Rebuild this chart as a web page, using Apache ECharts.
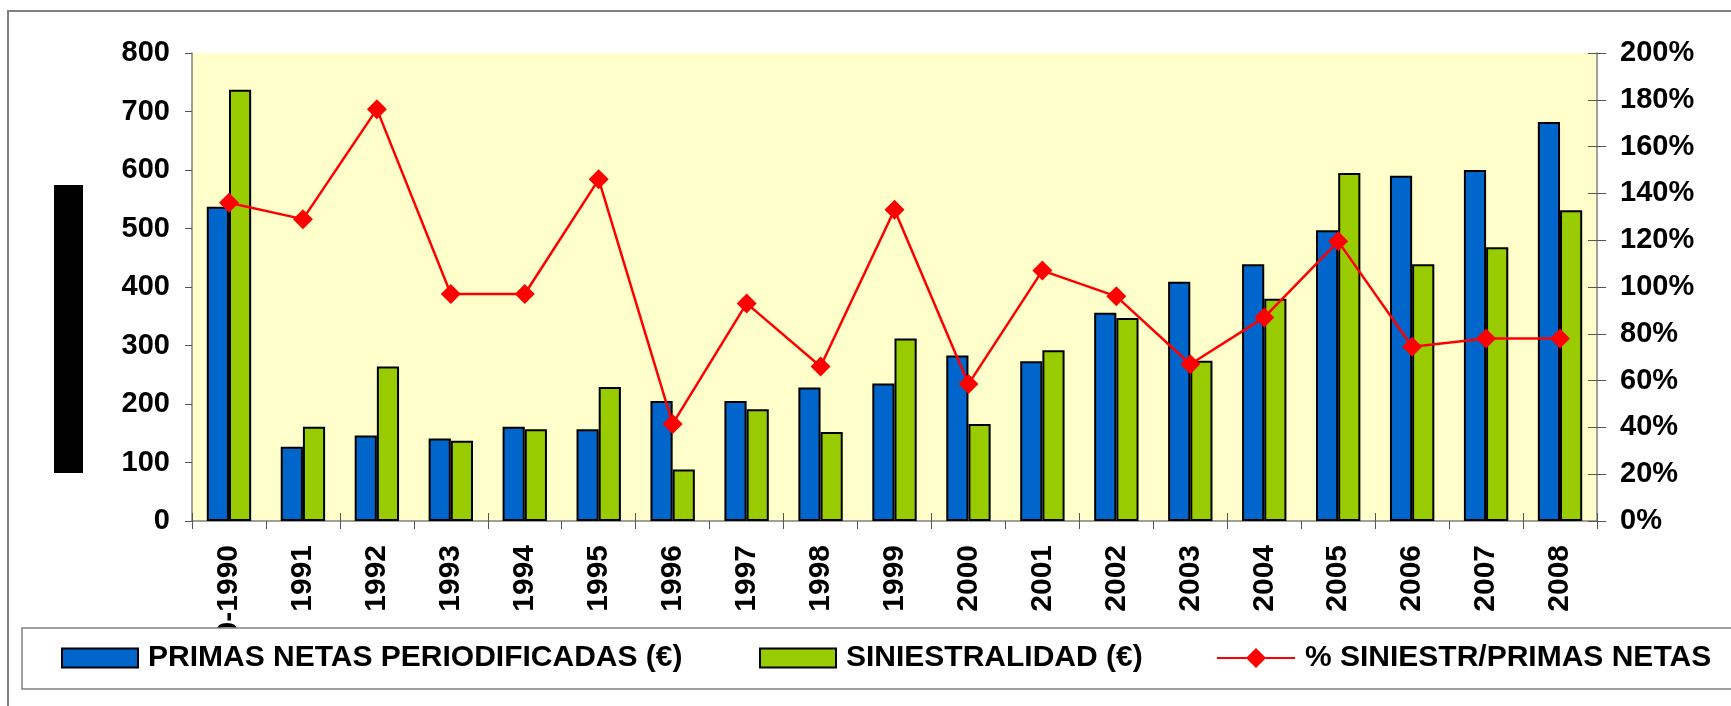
<!DOCTYPE html>
<html>
<head>
<meta charset="utf-8">
<script src="https://cdn.jsdelivr.net/npm/echarts@6/dist/echarts.min.js"></script>
<style>
html,body{margin:0;padding:0;background:#fff;}
#chart{width:1731px;height:706px;}
</style>
</head>
<body>
<div id="chart"></div>
<script>
const categories = ['1980-1990','1991','1992','1993','1994','1995','1996','1997','1998','1999','2000','2001','2002','2003','2004','2005','2006','2007','2008'];
const primas = [537,127,146,141,161,157,205,205,228,235,283,273,356,409,439,497,590,600,682];
const siniestralidad = [737,161,264,137,157,229,88,191,152,312,166,292,347,274,380,595,439,468,531];
const pctSiniestr = [136,129,176,97,97,146,41.5,93,66,133,58.5,107,96,67,87,119.5,74.5,78,78];
const leftTicks = [0,100,200,300,400,500,600,700,800];
const rightTicks = [0,20,40,60,80,100,120,140,160,180,200];

const FONT = "'Liberation Sans', Arial, sans-serif";
const labelStyle = {color:'#000', fontWeight:'bold', fontSize:30, fontFamily:FONT};
const yLabelStyle = {color:'#000', fontWeight:'bold', fontSize:29, fontFamily:FONT};
const axisGray = '#808080';

const chart = echarts.init(document.getElementById('chart'));
const names = ['PRIMAS NETAS PERIODIFICADAS (€)','SINIESTRALIDAD (€)','% SINIESTR/PRIMAS NETAS'];
const legendText = {color:'#000', fontWeight:'bold', fontSize:30, fontFamily:FONT, lineHeight:30, padding:[0,0,0,5]};

chart.setOption({
  animation:false,
  backgroundColor:'#fff',
  grid:{left:192, right:134, top:53, bottom:185, show:true, backgroundColor:'#FFFFCC', borderWidth:0},
  graphic:[
    {type:'rect', z:1, shape:{x:8, y:11, width:1740, height:720}, style:{fill:'none', stroke:axisGray, lineWidth:2}},
    {type:'rect', z:1, shape:{x:54, y:185, width:29, height:288}, style:{fill:'#000'}},
    {type:'rect', z:10, shape:{x:22, y:628, width:1740, height:61}, style:{fill:'#fff', stroke:axisGray, lineWidth:1.5}}
  ],
  legend:[
    {data:[{name:names[0], icon:'rect'}], left:61, top:643, padding:0, z:20, itemWidth:76, itemHeight:19, selectedMode:false, textStyle:legendText},
    {data:[{name:names[1], icon:'rect'}], left:759, top:643, padding:0, z:20, itemWidth:76, itemHeight:19, selectedMode:false, textStyle:legendText},
    {data:[names[2]], left:1216, top:643, padding:0, z:20, itemWidth:78, itemHeight:25, selectedMode:false, textStyle:legendText}
  ],
  xAxis:[
    {type:'category', data:categories, position:'bottom',
     axisLine:{show:true, lineStyle:{color:axisGray, width:1.5}},
     axisTick:{show:true, inside:false, length:8, lineStyle:{color:'#555', width:1}},
     axisLabel:Object.assign({rotate:90, interval:0, margin:24}, labelStyle),
     splitLine:{show:false}},
    {type:'category', data:categories, position:'bottom',
     axisLine:{show:false},
     axisTick:{show:true, inside:true, length:8, lineStyle:{color:'#555', width:1}},
     axisLabel:{show:false}, splitLine:{show:false}}
  ],
  yAxis:[
    {type:'value', position:'left', min:leftTicks[0], max:leftTicks[leftTicks.length-1], interval:100,
     axisLine:{show:true, lineStyle:{color:axisGray, width:1.5}},
     axisTick:{show:true, inside:false, length:7, lineStyle:{color:'#555', width:1}},
     axisLabel:Object.assign({margin:22}, yLabelStyle),
     splitLine:{show:false}},
    {type:'value', position:'right', min:rightTicks[0], max:rightTicks[rightTicks.length-1], interval:20,
     axisLine:{show:true, lineStyle:{color:axisGray, width:1.5}},
     axisTick:{show:true, inside:false, length:9, lineStyle:{color:'#555', width:1}},
     axisLabel:Object.assign({margin:23, formatter:'{value}%'}, yLabelStyle),
     splitLine:{show:false}},
    {type:'value', position:'right', min:rightTicks[0], max:rightTicks[rightTicks.length-1], interval:20,
     axisLine:{show:false},
     axisTick:{show:true, inside:true, length:9, lineStyle:{color:'#555', width:1}},
     axisLabel:{show:false}, splitLine:{show:false}}
  ],
  series:[
    {name:names[0], type:'bar', xAxisIndex:0, yAxisIndex:0, data:primas, barGap:'0%', barCategoryGap:'40%',
     itemStyle:{color:'#0066CC', borderColor:'#000', borderWidth:2}},
    {name:names[1], type:'bar', xAxisIndex:0, yAxisIndex:0, data:siniestralidad, barGap:'0%', barCategoryGap:'40%',
     itemStyle:{color:'#99CC00', borderColor:'#000', borderWidth:2}},
    {name:names[2], type:'line', xAxisIndex:0, yAxisIndex:1, data:pctSiniestr, z:5,
     symbol:'diamond', symbolSize:20,
     itemStyle:{color:'#FF0000'}, lineStyle:{color:'#FF0000', width:2.5}}
  ]
});
</script>
</body>
</html>
